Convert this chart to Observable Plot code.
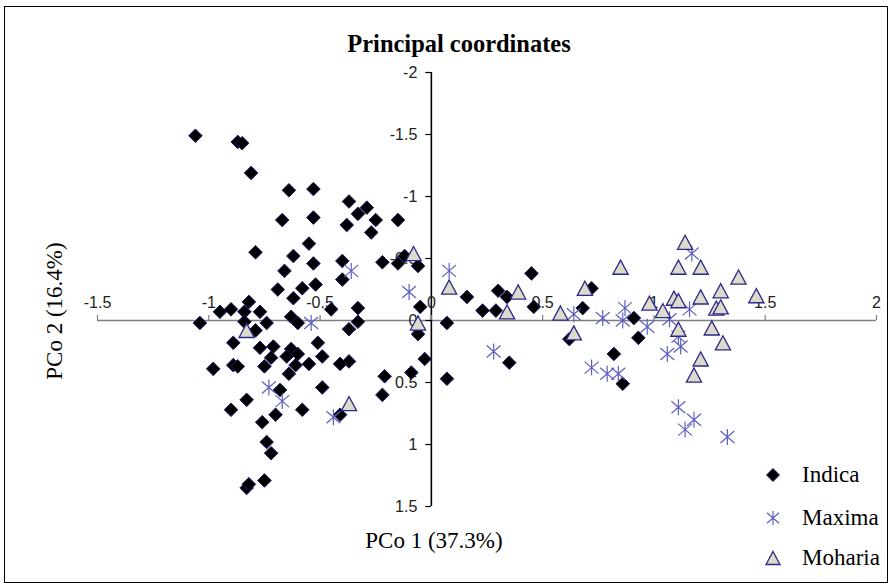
<!DOCTYPE html>
<html>
<head>
<meta charset="utf-8">
<script src="https://cdn.jsdelivr.net/npm/d3@7"></script>
<script src="https://cdn.jsdelivr.net/npm/@observablehq/plot@0.6"></script>
<style>
  html, body { margin: 0; padding: 0; background: #fff; }
  #wrap { position: relative; width: 891px; height: 586px; overflow: hidden; }
  #frame { position: absolute; left: 4px; top: 6px; width: 884px; height: 577px; border: 1px solid #000; box-sizing: border-box; pointer-events: none; }
  #chart { position: absolute; left: 0; top: 0; }
  .serif { font-family: "Liberation Serif", "Times New Roman", serif; color: #000; position: absolute; white-space: nowrap; }
  #title { left: 459px; top: 44px; font-weight: bold; font-size: 26px; transform: translate(-50%, -50%) scaleX(0.94); }
  #xlabel { left: 434px; top: 541px; font-size: 23px; transform: translate(-50%, -50%); }
  #ylabel { left: 55px; top: 311px; font-size: 23px; transform: translate(-50%, -50%) rotate(-90deg); }
  .leg { position: absolute; left: 762px; height: 30px; display: flex; align-items: center; }
  .leg svg { width: 22px; height: 22px; }
  .leg span { font-family: "Liberation Serif", "Times New Roman", serif; font-size: 23px; margin-left: 18px; }
</style>
</head>
<body>
<div id="wrap">
  <div id="chart"></div>
  <div id="frame"></div>
  <div id="title" class="serif">Principal coordinates</div>
  <div id="xlabel" class="serif">PCo 1 (37.3%)</div>
  <div id="ylabel" class="serif">PCo 2 (16.4%)</div>
  <div id="legend"></div>
</div>
<script>
// ---- Data ----
const xTicks = [-1.5, -1, -0.5, 0, 0.5, 1, 1.5, 2];
const yTicks = [-2, -1.5, -1, -0.5, 0, 0.5, 1, 1.5];
const seriesNames = ["Indica", "Maxima", "Moharia"];

const indicaX = [-1.06,-0.87,-0.85,-0.81,-0.64,-0.53,-0.37,-0.29,-0.33,-0.25,-0.15,-0.67,-0.53,-0.38,-0.27,-0.55,-0.79,-0.62,-0.53,-0.66,-0.40,-0.40,-0.52,-0.58,-0.69,-0.62,-0.22,-0.15,-0.12,-0.06,-0.05,-0.82,-0.95,-0.90,-0.84,-0.77,-1.04,-0.84,-0.79,-0.74,-0.63,-0.60,-0.45,-0.33,-0.33,-0.37,-0.06,-0.06,-0.89,-0.77,-0.71,-0.72,-0.63,-0.60,-0.65,-0.51,-0.49,-0.37,-0.41,-0.55,-0.61,-0.64,-0.75,-0.89,-0.87,-0.98,-0.03,-0.09,-0.21,-0.22,-0.49,-0.68,-0.83,-0.90,-0.58,-0.70,-0.41,-0.76,-0.74,-0.72,-0.75,-0.83,-0.82,0.07,0.16,0.30,0.34,0.23,0.29,0.45,0.46,0.35,0.07,0.72,0.68,0.62,0.82,0.86,0.91,0.93];
const indicaY = [-1.49,-1.44,-1.43,-1.19,-1.05,-1.06,-0.96,-0.91,-0.86,-0.81,-0.81,-0.81,-0.83,-0.77,-0.71,-0.62,-0.55,-0.52,-0.46,-0.40,-0.48,-0.33,-0.29,-0.26,-0.25,-0.18,-0.47,-0.46,-0.52,-0.44,-0.11,-0.15,-0.07,-0.09,-0.07,-0.07,0.02,0.01,0.08,0.02,-0.03,0.02,-0.09,-0.10,0.01,0.07,0.06,0.11,0.18,0.22,0.21,0.30,0.23,0.27,0.29,0.18,0.29,0.33,0.35,0.35,0.36,0.43,0.37,0.36,0.37,0.39,0.31,0.42,0.45,0.60,0.54,0.56,0.64,0.72,0.72,0.76,0.76,0.82,0.98,1.07,1.29,1.35,1.32,0.02,-0.19,-0.24,-0.19,-0.08,-0.08,-0.38,-0.11,0.34,0.47,-0.26,-0.10,0.15,0.27,0.51,-0.02,0.14];

const maximaX = [-0.36,-0.10,-0.54,-0.73,-0.67,-0.44,0.08,0.28,0.64,0.77,0.87,0.86,0.97,0.72,0.79,0.84,1.07,1.16,1.17,1.11,1.12,1.06,1.11,1.18,1.14,1.33];
const maximaY = [-0.40,-0.23,0.02,0.54,0.65,0.78,-0.40,0.25,-0.05,-0.02,-0.10,0.00,0.05,0.38,0.43,0.43,-0.01,-0.09,-0.54,0.13,0.21,0.27,0.70,0.80,0.88,0.94];

const mohariaX = [-0.08,-0.06,-0.83,-0.37,0.08,0.39,0.34,0.58,0.64,0.69,0.85,0.98,1.14,1.11,1.21,1.38,1.30,1.46,1.21,1.09,1.11,1.04,1.28,1.30,1.11,1.26,1.31,1.21,1.18];
const mohariaY = [-0.54,0.02,0.08,0.67,-0.27,-0.23,-0.07,-0.06,0.10,-0.26,-0.43,-0.14,-0.63,-0.43,-0.43,-0.35,-0.24,-0.20,-0.19,-0.18,-0.16,-0.08,-0.10,-0.11,0.07,0.06,0.18,0.31,0.44];

// ---- Symbols ----
const diamondSym = { draw(ctx, size) { const r = Math.sqrt(size / Math.PI);
  ctx.moveTo(0, -r); ctx.lineTo(r, 0); ctx.lineTo(0, r); ctx.lineTo(-r, 0); ctx.closePath(); } };
const triangleSym = { draw(ctx, size) { const r = Math.sqrt(size / Math.PI);
  ctx.moveTo(0, -0.93 * r); ctx.lineTo(r, 0.93 * r); ctx.lineTo(-r, 0.93 * r); ctx.closePath(); } };
const asteriskSym = { draw(ctx, size) { const r = Math.sqrt(size / Math.PI);
  ctx.moveTo(0, -r); ctx.lineTo(0, r);
  ctx.moveTo(-0.87 * r, -0.75 * r); ctx.lineTo(0.87 * r, 0.75 * r);
  ctx.moveTo(-0.87 * r, 0.75 * r); ctx.lineTo(0.87 * r, -0.75 * r); } };

const styles = {
  Indica:  { symbol: diamondSym,  r: 6.8, fill: "#000000", stroke: "#1a1a6e", strokeWidth: 1 },
  Maxima:  { symbol: asteriskSym, r: 8,   fill: "none",    stroke: "#5f5fc4", strokeWidth: 1.2 },
  Moharia: { symbol: triangleSym, r: 7.6, fill: "#dcdaca", stroke: "#2a2a8a", strokeWidth: 1.3 }
};

const toRows = (xs, ys) => xs.map((x, i) => ({ x, y: ys[i] }));
const indica = toRows(indicaX, indicaY);
const maxima = toRows(maximaX, maximaY);
const moharia = toRows(mohariaX, mohariaY);

const font = "'Liberation Sans', Arial, sans-serif";

const chart = Plot.plot({
  width: 891,
  height: 586,
  x: { domain: [-1.5, 2], range: [97, 876], axis: null },
  y: { domain: [-2, 1.5], range: [72, 506], axis: null },
  style: { background: "transparent", overflow: "visible" },
  marks: [
    Plot.ruleY([0], { x1: xTicks[0], x2: xTicks[xTicks.length - 1], stroke: "#7f7f7f", strokeWidth: 1.6 }),
    Plot.ruleX([0], { y1: yTicks[0], y2: yTicks[yTicks.length - 1], stroke: "#000", strokeWidth: 1.6 }),
    Plot.ruleX(xTicks, { x: d => d, y1: 0, y2: -0.04, stroke: "#7f7f7f", strokeWidth: 1.2 }),
    Plot.ruleY(yTicks, { y: d => d, x1: 0, x2: -0.025, stroke: "#000", strokeWidth: 1.2 }),
    Plot.text(xTicks, { x: d => d, y: 0, dy: -18, text: d => String(d), fontSize: 16, fontFamily: font, fill: "#222" }),
    Plot.text(yTicks, { x: 0, y: d => d, dx: -14, textAnchor: "end", text: d => String(d), fontSize: 16, fontFamily: font, fill: "#222" }),
    Plot.dot(indica, { x: "x", y: "y", ...styles.Indica }),
    Plot.dot(maxima, { x: "x", y: "y", ...styles.Maxima }),
    Plot.dot(moharia, { x: "x", y: "y", ...styles.Moharia })
  ]
});
document.getElementById("chart").appendChild(chart);

// ---- Legend ----
const legend = document.getElementById("legend");
const legTops = [460, 503, 543];
seriesNames.forEach((name, i) => {
  const s = styles[name];
  const row = document.createElement("div");
  row.className = "leg";
  row.style.top = legTops[i] + "px";
  const svg = d3.create("svg").attr("viewBox", "-11 -11 22 22");
  const rr = name === "Indica" ? 6.5 : 7;
  svg.append("path")
    .attr("d", d3.symbol(s.symbol, rr * rr * Math.PI)())
    .attr("fill", s.fill).attr("stroke", s.stroke).attr("stroke-width", s.strokeWidth);
  row.appendChild(svg.node());
  const t = document.createElement("span");
  t.textContent = name;
  row.appendChild(t);
  legend.appendChild(row);
});
</script>
</body>
</html>
